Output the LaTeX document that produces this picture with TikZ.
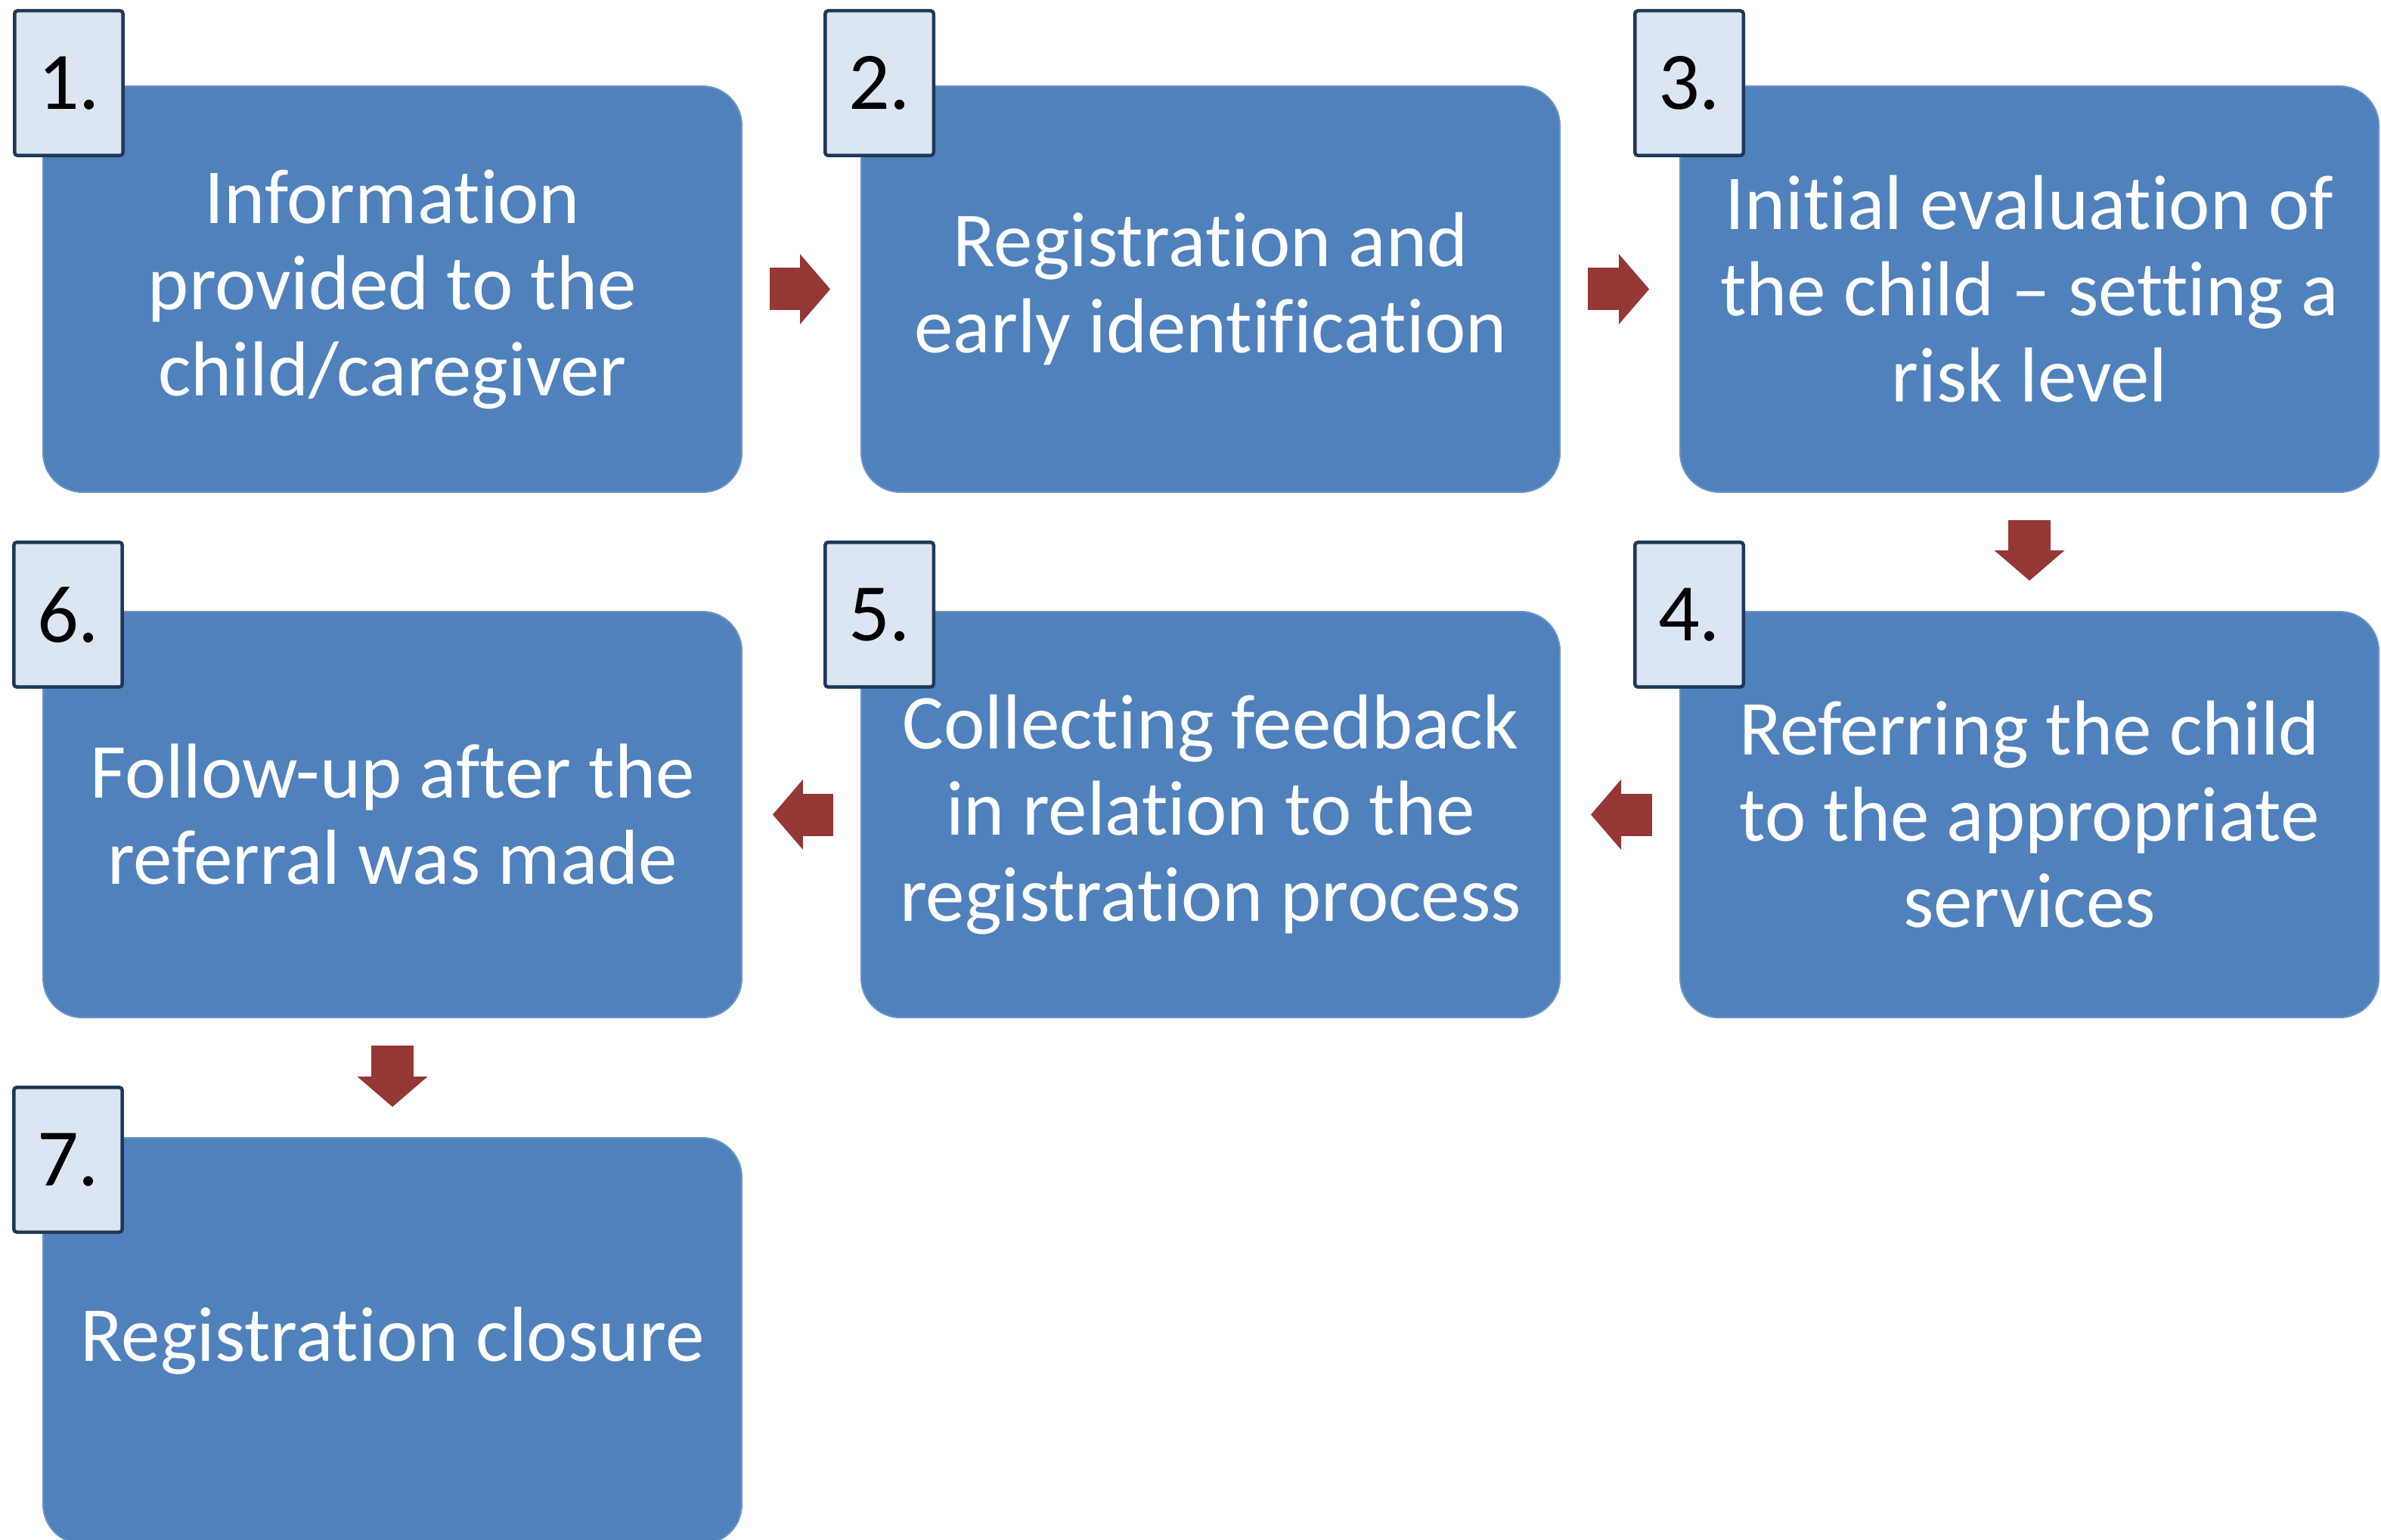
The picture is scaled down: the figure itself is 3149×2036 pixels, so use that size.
\documentclass[tikz,border=0pt]{standalone}
\usepackage{fontspec}
\setmainfont{Carlito}[Ligatures=NoCommon]
\usetikzlibrary{arrows.meta}
\definecolor{stepblue}{HTML}{4F81BD}
\definecolor{arrowred}{HTML}{953735}
\definecolor{numfill}{HTML}{DCE6F2}
\definecolor{numline}{HTML}{1F3856}

\begin{document}
\begin{tikzpicture}[x=0.1pt,y=-0.1pt,
 stage/.style ={fill=stepblue, draw=stepblue!85!white, line width=0.2pt, rounded corners=5.2pt, minimum width=92.4pt, minimum height=53.7pt, inner sep=0pt, align=center, text=white, font=\fontsize{10.3}{11.4}\selectfont},
 number/.style ={fill=numfill, draw=numline, line width=0.45pt, rounded corners=0.4pt, minimum width=14.35pt, minimum height=19.15pt, inner sep=0pt, font=\fontsize{10.8}{12}\selectfont},
 flow/.style ={draw=arrowred, line width=5.6pt, -{Triangle[width=9.3pt,length=4pt,line width=0pt]}, shorten <=3.6pt, shorten >=4pt}
 ]
\useasboundingbox (0,0) rectangle (3149,2036);
%first row of stages
\node[stage] (s1) at (519,382.5) {Information\\provided to the\\child/caregiver};
\node[stage] (s2) at (1601,382.5) {Registration and\\early identification};
\node[stage] (s3) at (2684,382.5) {Initial evaluation of\\the child – setting a\\risk level};
%second row, right to left
\node[stage] (s4) at (2684,1077.5) {Referring the child\\to the appropriate\\services};
\node[stage] (s5) at (1601,1077.5) {Collecting feedback\\in relation to the\\registration process};
\node[stage] (s6) at (519,1077.5) {Follow-up after the\\referral was made};
%last stage
\node[stage] (s7) at (519,1773.5) {Registration closure};
%step numbers
\node[number] (n1) at (91,110) {1.};
\node[number] (n2) at (1163,110) {2.};
\node[number] (n3) at (2234,110) {3.};
\node[number] (n4) at (2234,813) {4.};
\node[number] (n5) at (1163,813) {5.};
\node[number] (n6) at (90,813) {6.};
\node[number] (n7) at (90,1534) {7.};
%arrows between stages
\draw[flow] (s1.east) -- (s2.west);
\draw[flow] (s2.east) -- (s3.west);
\draw[flow] (s3.south) -- (s4.north);
\draw[flow] (s4.west) -- (s5.east);
\draw[flow] (s5.west) -- (s6.east);
\draw[flow] (s6.south) -- (s7.north);
\end{tikzpicture}
\end{document}
